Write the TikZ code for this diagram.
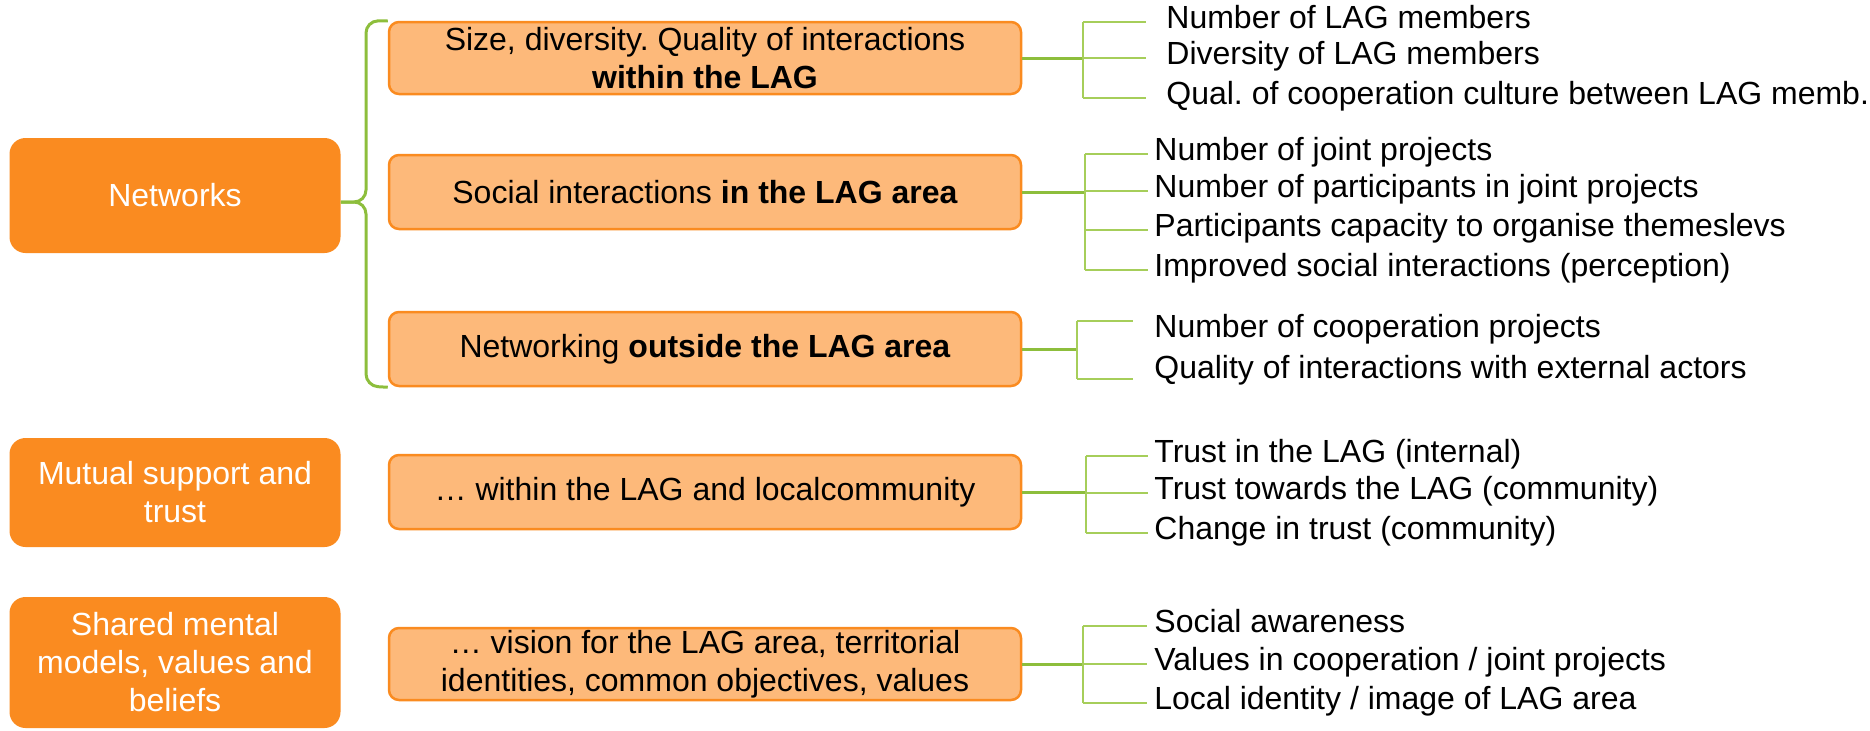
\documentclass[tikz,border=0pt]{standalone}
\usepackage{fontspec}
\setmainfont{Liberation Sans}
\definecolor{dorange}{RGB}{250,139,32}
\definecolor{lorange}{RGB}{253,185,122}
\definecolor{lgreen}{RGB}{141,190,60}
\definecolor{bgreen}{RGB}{166,206,90}
\frenchspacing
\begin{document}
\begin{tikzpicture}[x=0.5pt,y=-0.5pt,
  font=\fontsize{16pt}{19pt}\selectfont,
  catbox/.style={fill=dorange, rounded corners=8pt, text=white, align=center,
    minimum width=165.5pt, inner sep=0pt},
  midbox/.style={draw=dorange, line width=1.25pt, fill=lorange, rounded corners=5pt,
    align=center, minimum width=316pt, inner sep=0pt},
  leaf/.style={anchor=west, inner sep=0pt, text height=0.6em, text depth=0pt},
  mainline/.style={draw=lgreen, line width=1.5pt},
  branch/.style={draw=bgreen, line width=0.8pt},
  bracepath/.style={draw=lgreen, line width=1.5pt, rounded corners=6pt}]
\useasboundingbox (0,0) rectangle (1870,730);

% category boxes
\node[catbox, minimum height=57.5pt] (net) at (175,195.5) {Networks};
\node[catbox, minimum height=54.5pt] (mut) at (175,492.5) {Mutual support and\\trust};
\node[catbox, minimum height=65.5pt] (sha) at (175,662.5) {Shared mental\\models, values and\\beliefs};

% middle boxes
\node[midbox, minimum height=36pt] (m1) at (705,58) {Size, diversity. Quality of interactions\\\textbf{within the LAG}};
\node[midbox, minimum height=37pt] (m2) at (705,192) {Social interactions \textbf{in the LAG area}};
\node[midbox, minimum height=37pt] (m3) at (705,349) {Networking \textbf{outside the LAG area}};
\node[midbox, minimum height=37pt] (m4) at (705,492) {… within the LAG and localcommunity};
\node[midbox, minimum height=36pt] (m5) at (705,664) {… vision for the LAG area, territorial\\identities, common objectives, values};

% brace
\draw[bracepath] (m1.north west) -- (366,21) -- (366,202) -- (net.east |- 0,202);
\draw[bracepath] (m3.south west) -- (366,386) -- (366,202) -- (net.east |- 0,202);

% leaves group 1
\node[leaf] (l11) at (1166,22) {Number of LAG members};
\node[leaf] (l12) at (1166,58) {Diversity of LAG members};
\node[leaf] (l13) at (1166,98) {Qual. of cooperation culture between LAG memb.};
\coordinate (j1) at (1083,0);
\draw[mainline] (m1.east) -- (m1.east -| j1);
\draw[branch] (l11.west -| j1) -- (l13.west -| j1);
\foreach \l in {l11,l12,l13} \draw[branch] (\l.west -| j1) -- ([xshift=-10pt]\l.west);

% leaves group 2
\node[leaf] (l21) at (1154,154) {Number of joint projects};
\node[leaf] (l22) at (1154,191) {Number of participants in joint projects};
\node[leaf] (l23) at (1154,230) {Participants capacity to organise themeslevs};
\node[leaf] (l24) at (1154,270) {Improved social interactions (perception)};
\coordinate (j2) at (1085,0);
\draw[mainline] (m2.east) -- (m2.east -| j2);
\draw[branch] (l21.west -| j2) -- (l24.west -| j2);
\foreach \l in {l21,l22,l23,l24} \draw[branch] (\l.west -| j2) -- ([xshift=-3pt]\l.west);

% leaves group 3
\node[leaf] (l31) at (1154,331) {Number of cooperation projects};
\node[leaf] (l32) at (1154,372) {Quality of interactions with external actors};
\coordinate (j3) at (1077,0);
\coordinate (e31) at (1133,321);
\coordinate (e32) at (1133,379);
\draw[mainline] (m3.east) -- (m3.east -| j3);
\draw[branch] (e31 -| j3) -- (e32 -| j3);
\draw[branch] (e31 -| j3) -- (e31);
\draw[branch] (e32 -| j3) -- (e32);

% leaves group 4
\node[leaf] (l41) at (1154,456) {Trust in the LAG (internal)};
\node[leaf] (l42) at (1154,493) {Trust towards the LAG (community)};
\node[leaf] (l43) at (1154,533) {Change in trust (community)};
\coordinate (j4) at (1086,0);
\draw[mainline] (m4.east) -- (m4.east -| j4);
\draw[branch] (l41.west -| j4) -- (l43.west -| j4);
\foreach \l in {l41,l42,l43} \draw[branch] (\l.west -| j4) -- ([xshift=-3pt]\l.west);

% leaves group 5
\node[leaf] (l51) at (1154,626) {Social awareness};
\node[leaf] (l52) at (1154,664) {Values in cooperation / joint projects};
\node[leaf] (l53) at (1154,703) {Local identity / image of LAG area};
\coordinate (j5) at (1083,0);
\draw[mainline] (m5.east) -- (m5.east -| j5);
\draw[branch] (l51.west -| j5) -- (l53.west -| j5);
\foreach \l in {l51,l52,l53} \draw[branch] (\l.west -| j5) -- ([xshift=-3.5pt]\l.west);
\end{tikzpicture}
\end{document}
